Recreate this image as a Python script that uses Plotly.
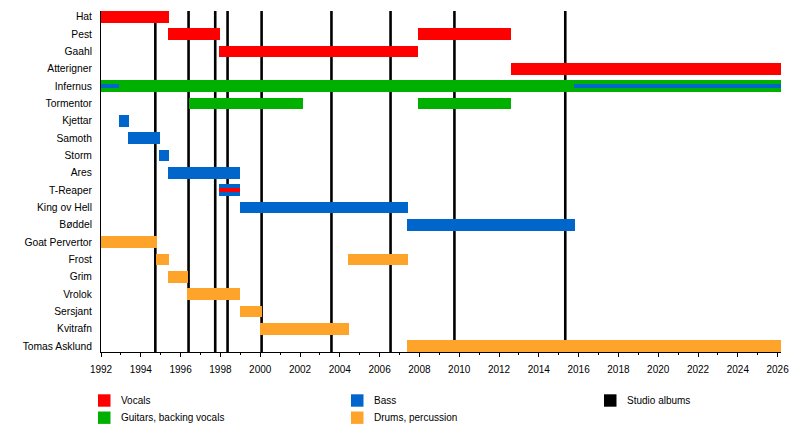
import plotly.graph_objects as go

# ---------------- data ----------------
members = ["Hat", "Pest", "Gaahl", "Atterigner", "Infernus", "Tormentor", "Kjettar",
           "Samoth", "Storm", "Ares", "T-Reaper", "King ov Hell", "Bøddel",
           "Goat Pervertor", "Frost", "Grim", "Vrolok", "Sersjant", "Kvitrafn",
           "Tomas Asklund"]

END = 2026.17

# main spans: member, start, end, role
span_member = ["Hat", "Pest", "Pest", "Gaahl", "Atterigner", "Infernus", "Tormentor", "Tormentor",
               "Kjettar", "Samoth", "Storm", "Ares", "T-Reaper", "King ov Hell", "Bøddel",
               "Goat Pervertor", "Frost", "Frost", "Grim", "Vrolok", "Sersjant", "Kvitrafn",
               "Tomas Asklund"]
span_start = [1992.0, 1995.38, 2007.94, 1997.94, 2012.61, 1992.0, 1996.43, 2007.94,
              1992.92, 1993.37, 1994.93, 1995.38, 1997.94, 1999.0, 2007.38,
              1992.0, 1994.78, 2004.39, 1995.38, 1996.33, 1999.0, 2000.0,
              2007.38]
span_end = [1995.43, 1997.99, 2012.61, 2007.94, END, END, 2002.16, 2012.61,
            1993.42, 1994.98, 1995.43, 1999.0, 1999.0, 2007.43, 2015.82,
            1994.83, 1995.43, 2007.43, 1996.38, 1999.0, 2000.1, 2004.44,
            END]
span_role = ["Vocals", "Vocals", "Vocals", "Vocals", "Vocals", "Guitars", "Guitars", "Guitars",
             "Bass", "Bass", "Bass", "Bass", "Bass", "Bass", "Bass",
             "Drums", "Drums", "Drums", "Drums", "Drums", "Drums", "Drums",
             "Drums"]

# secondary role stripes
stripe_member = ["Infernus", "Infernus", "T-Reaper"]
stripe_start = [1992.0, 2015.77, 1997.94]
stripe_end = [1992.92, END, 1999.0]
stripe_role = ["Bass", "Bass", "Vocals"]

# studio albums
album_years = [1994.73, 1996.40, 1997.74, 1998.36, 2000.07, 2003.58, 2006.55, 2009.76, 2015.33]

roles = ["Vocals", "Guitars", "Bass", "Drums", "Albums"]
role_labels = ["Vocals", "Guitars, backing vocals", "Bass", "Drums, percussion", "Studio albums"]
role_colors = {"Vocals": "#ff0000", "Guitars": "#00b000", "Bass": "#0066cc",
               "Drums": "#ffa42b", "Albums": "#000000"}

tick_years = list(range(1992, 2027, 2))

# ---------------- figure ----------------
# page body has an 8px default margin; size the figure to fill the rest of the window
OFF = 8
WIN_W, WIN_H = 800, 442
W, H = WIN_W - OFF, WIN_H - OFF
# plot area in window pixels: x 101..781, y 11..352
ML, MR, MT, MB = 101 - OFF, WIN_W - 781, 11 - OFF, WIN_H - 352
PW, PH = W - ML - MR, H - MT - MB

def px_x(px):  # window px -> paper
    return (px - OFF - ML) / PW

def px_y(py):
    return (H - MB - (py - OFF)) / PH

fig = go.Figure()

for role in ["Vocals", "Guitars", "Bass", "Drums"]:
    idx = [i for i, r in enumerate(span_role) if r == role]
    fig.add_trace(go.Bar(
        orientation="h",
        y=[span_member[i] for i in idx],
        base=[span_start[i] for i in idx],
        x=[span_end[i] - span_start[i] for i in idx],
        width=0.68,
        marker=dict(color=role_colors[role], line=dict(width=0)),
        showlegend=False, hoverinfo="skip",
    ))

fig.add_trace(go.Bar(
    orientation="h",
    y=stripe_member,
    base=stripe_start,
    x=[e - s for s, e in zip(stripe_start, stripe_end)],
    width=0.24,
    marker=dict(color=[role_colors[r] for r in stripe_role], line=dict(width=0)),
    showlegend=False, hoverinfo="skip",
))

for yr in album_years:
    fig.add_shape(type="line", xref="x", yref="paper", x0=yr, x1=yr, y0=0, y1=1,
                  line=dict(color="black", width=2.6), layer="below")

# legend (manual, 3 columns x 2 rows)
col_sw = [98, 351, 604]
row_cy = [400.5, 417.7]
positions = [(0, 0), (0, 1), (1, 0), (1, 1), (2, 0)]
for role, label, (c, r) in zip(roles, role_labels, positions):
    x0 = col_sw[c]
    cy = row_cy[r]
    fig.add_shape(type="rect", xref="paper", yref="paper",
                  x0=px_x(x0), x1=px_x(x0 + 12.5), y0=px_y(cy + 6.2), y1=px_y(cy - 6.2),
                  fillcolor=role_colors[role], line=dict(width=0))
    fig.add_annotation(xref="paper", yref="paper", x=px_x(x0 + 21), y=px_y(cy),
                       text=label, showarrow=False, xanchor="left", yanchor="middle",
                       font=dict(size=10, color="#000000"))

fig.update_layout(
    width=W, height=H,
    margin=dict(l=ML, r=MR, t=MT, b=MB, pad=0, autoexpand=False),
    plot_bgcolor="white", paper_bgcolor="white",
    barmode="overlay",
    bargap=0,
    font=dict(family="Liberation Sans, Arial, sans-serif", size=10, color="#000000"),
    xaxis=dict(range=[1992, END], tickvals=tick_years, ticktext=[str(t) for t in tick_years],
               automargin=False,
               showgrid=False, zeroline=False, showline=True, linecolor="black", linewidth=1,
               ticks="outside", ticklen=4, tickwidth=1, tickcolor="black",
               ticklabelstandoff=4,
               minor=dict(dtick=1, tick0=1992, ticks="outside", ticklen=2, tickwidth=1,
                          tickcolor="black", showgrid=False),
               tickfont=dict(size=10), fixedrange=True),
    yaxis=dict(type="category", categoryorder="array", categoryarray=members,
               automargin=False,
               range=[len(members) - 1 + 0.3375, -0.3375],
               showgrid=False, zeroline=False, showline=True, linecolor="black", linewidth=1,
               ticks="", ticklabelstandoff=6, tickfont=dict(size=10.3), fixedrange=True),
)

fig.write_html("out.html")
